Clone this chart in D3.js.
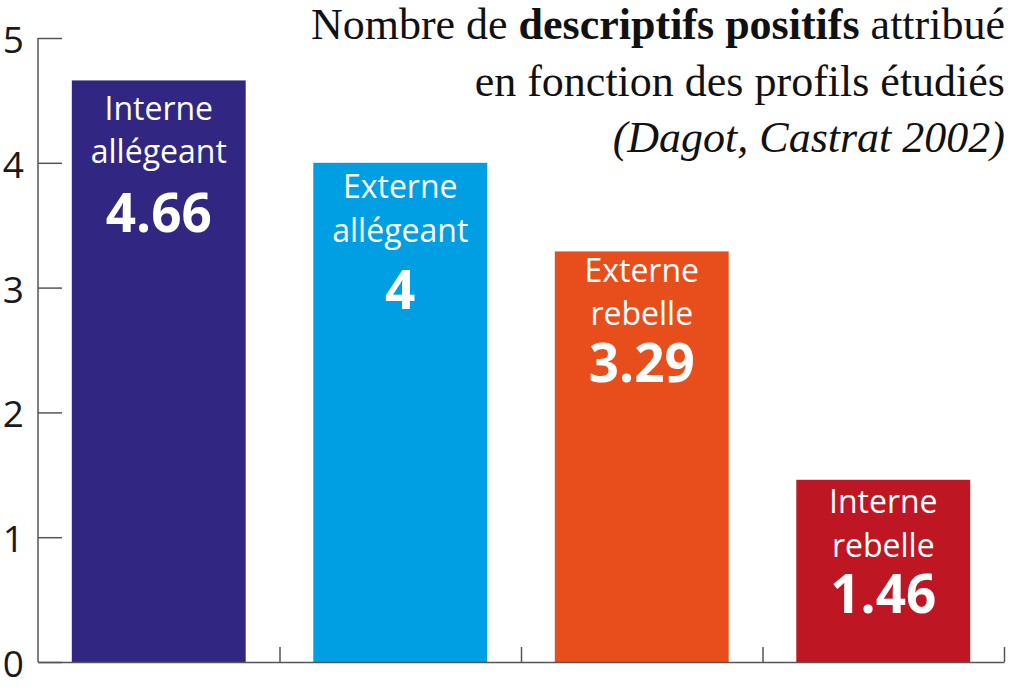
<!DOCTYPE html>
<html>
<head>
<meta charset="utf-8">
<script src="https://cdn.jsdelivr.net/npm/d3@7"></script>
<style>
  html, body { margin: 0; padding: 0; background: #fff; }
  svg { display: block; }
</style>
</head>
<body>
<svg id="chart" width="1024" height="690"></svg>
<script>
// ---- data ----
const categories = ["Interne allégeant", "Externe allégeant", "Externe rebelle", "Interne rebelle"];
const labelLines = [["Interne", "allégeant"], ["Externe", "allégeant"], ["Externe", "rebelle"], ["Interne", "rebelle"]];
const values = [4.66, 4, 3.29, 1.46];
const valueLabels = ["4.66", "4", "3.29", "1.46"];
const yTickValues = [0, 1, 2, 3, 4, 5];
const colors = ["#312783", "#009FE3", "#E84E1B", "#BE1622"];

// ---- layout ----
const W = 1024, H = 690;
const x0 = 38, x1 = 1004, yTop = 38, yBot = 662;
// baseline offsets below each bar top: line1, line2, value
const labelDy = [[40, 83, 152], [35, 79, 146], [31, 74, 131], [33, 77, 133]];
const axisColor = "#555";

const svg = d3.select("#chart");

const x = d3.scaleBand().domain(categories).range([x0, x1])
  .paddingInner(0.28).paddingOuter(0.14);
const y = d3.scaleLinear().domain([0, 5]).range([yBot, yTop]);

// bars
svg.append("g").selectAll("rect").data(categories).join("rect")
  .attr("x", d => x(d))
  .attr("width", x.bandwidth())
  .attr("y", (d, i) => y(values[i]))
  .attr("height", (d, i) => y(0) - y(values[i]))
  .attr("fill", (d, i) => colors[i]);

// y axis (ticks pointing inward)
const yAxis = d3.axisRight(y).tickValues(yTickValues).tickSize(24).tickFormat("");
const gy = svg.append("g").attr("transform", `translate(${x0},0)`).call(yAxis);
gy.select(".domain").attr("stroke", axisColor).attr("stroke-width", 1.5).attr("d", `M0,${yTop}V${yBot}`);
gy.selectAll(".tick line").attr("stroke", axisColor).attr("stroke-width", 1.5);

// y tick labels
svg.append("g").selectAll("text").data(yTickValues).join("text")
  .attr("x", 24)
  .attr("y", d => y(d) + 15)
  .attr("text-anchor", "end")
  .attr("font-family", "'Open Sans', sans-serif")
  .attr("font-size", 37)
  .attr("fill", "#1a1a1a")
  .text(d => d);

// x axis with boundary ticks pointing up
const boundaries = categories.map(c => x(c) + x.bandwidth() + x.step() * x.paddingInner() / 2);
boundaries[boundaries.length - 1] = x1;
const xb = d3.scaleLinear().domain([x0, x1]).range([x0, x1]);
const xAxis = d3.axisTop(xb).tickValues(boundaries).tickSize(15).tickSizeOuter(0).tickFormat("");
const gx = svg.append("g").attr("transform", `translate(0,${yBot})`).call(xAxis);
gx.select(".domain").attr("stroke", axisColor).attr("stroke-width", 1.5);
gx.selectAll(".tick line").attr("stroke", axisColor).attr("stroke-width", 1.5);

// bar labels
const lab = svg.append("g").attr("font-family", "'Open Sans', sans-serif").attr("fill", "#fff").attr("text-anchor", "middle");
categories.forEach((c, i) => {
  const cx = x(c) + x.bandwidth() / 2;
  const top = y(values[i]);
  labelLines[i].forEach((t, j) => {
    lab.append("text").attr("x", cx).attr("y", top + labelDy[i][j])
      .attr("font-size", 32).text(t);
  });
  lab.append("text").attr("x", cx).attr("y", top + labelDy[i][2])
    .attr("font-size", 53).attr("font-weight", "bold").text(valueLabels[i]);
});

// title
const title = svg.append("g").attr("font-family", "'Liberation Serif', serif").attr("font-size", 44)
  .attr("fill", "#111").attr("text-anchor", "end");
const t1 = title.append("text").attr("x", 1005).attr("y", 39);
t1.append("tspan").text("Nombre de ");
t1.append("tspan").attr("font-weight", "bold").text("descriptifs positifs");
t1.append("tspan").text(" attribué");
title.append("text").attr("x", 1005).attr("y", 96).text("en fonction des profils étudiés");
title.append("text").attr("x", 1005).attr("y", 152).attr("font-style", "italic").text("(Dagot, Castrat 2002)");
</script>
</body>
</html>
